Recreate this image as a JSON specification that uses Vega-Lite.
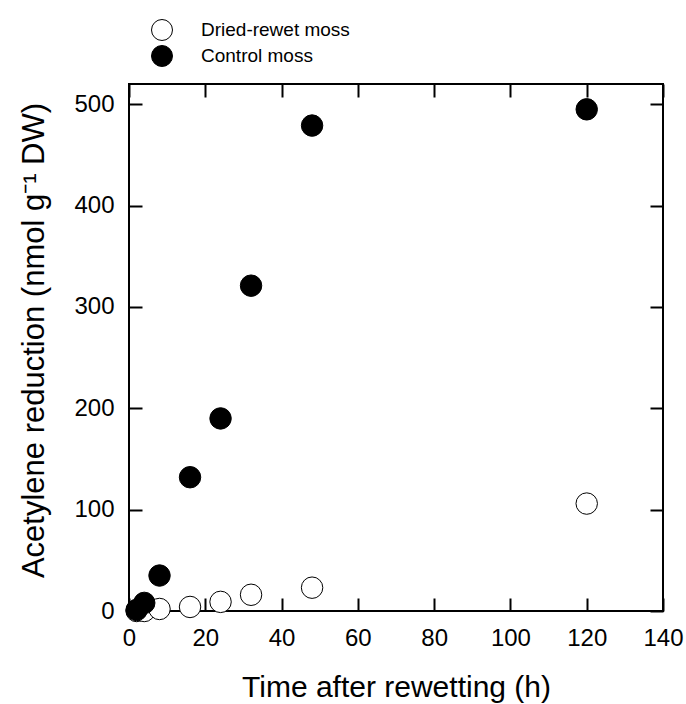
{
  "$schema": "https://vega.github.io/schema/vega-lite/v6.json",
  "autosize": {"type": "none"},
  "padding": {"left": 129, "top": 84, "right": 23, "bottom": 93},
  "width": 534,
  "height": 527,
  "background": "white",
  "config": {
    "view": {"stroke": "black", "strokeWidth": 2},
    "font": "Liberation Sans",
    "axis": {
      "grid": false,
      "domain": false,
      "tickColor": "black",
      "tickWidth": 2,
      "tickSize": -13,
      "labelFlush": false,
      "labelOverlap": false,
      "labelColor": "black",
      "titleColor": "black",
      "labelFont": "Liberation Sans",
      "titleFont": "Liberation Sans",
      "labelFontSize": 24,
      "titleFontSize": 30,
      "titleFontWeight": "normal"
    }
  },
  "data": {
    "values": [
      {"time": 2, "value": 0, "group": "Dried-rewet moss"},
      {"time": 4, "value": 0, "group": "Dried-rewet moss"},
      {"time": 8, "value": 2, "group": "Dried-rewet moss"},
      {"time": 16, "value": 4, "group": "Dried-rewet moss"},
      {"time": 24, "value": 9, "group": "Dried-rewet moss"},
      {"time": 32, "value": 16, "group": "Dried-rewet moss"},
      {"time": 48, "value": 23, "group": "Dried-rewet moss"},
      {"time": 120, "value": 106, "group": "Dried-rewet moss"},
      {"time": 2, "value": 1, "group": "Control moss"},
      {"time": 4, "value": 8, "group": "Control moss"},
      {"time": 8, "value": 35, "group": "Control moss"},
      {"time": 16, "value": 132, "group": "Control moss"},
      {"time": 24, "value": 190, "group": "Control moss"},
      {"time": 32, "value": 321, "group": "Control moss"},
      {"time": 48, "value": 479, "group": "Control moss"},
      {"time": 120, "value": 495, "group": "Control moss"}
    ]
  },
  "layer": [
    {
      "mark": {"type": "point", "filled": true, "size": 460, "stroke": "black", "strokeWidth": 1, "opacity": 1},
      "encoding": {
        "x": {
          "field": "time", "type": "quantitative",
          "scale": {"domain": [0, 140], "nice": false, "zero": false},
          "axis": {"orient": "bottom", "values": [0, 20, 40, 60, 80, 100, 120, 140], "labelPadding": 28, "title": "Time after rewetting (h)", "titlePadding": 22}
        },
        "y": {
          "field": "value", "type": "quantitative",
          "scale": {"domain": [0, 520], "nice": false, "zero": false},
          "axis": {"orient": "left", "values": [0, 100, 200, 300, 400, 500], "labelPadding": 28, "title": "Acetylene reduction (nmol g⁻¹ DW)", "titleFontSize": 31, "titlePadding": 23, "titleY": 256}
        },
        "fill": {
          "field": "group", "type": "nominal",
          "scale": {"domain": ["Dried-rewet moss", "Control moss"], "range": ["white", "black"]},
          "legend": {
            "title": null,
            "orient": "none",
            "legendX": 22,
            "legendY": -65,
            "padding": 0,
            "symbolType": "circle",
            "symbolSize": 440,
            "symbolStrokeColor": "black",
            "symbolStrokeWidth": 1,
            "labelFontSize": 19,
            "labelFont": "Liberation Sans",
            "labelColor": "black",
            "labelOffset": 28,
            "rowPadding": 0
          }
        }
      }
    },
    {
      "mark": {"type": "point", "size": 0, "opacity": 0},
      "encoding": {
        "x": {
          "field": "time", "type": "quantitative",
          "axis": {"orient": "top", "values": [0, 20, 40, 60, 80, 100, 120, 140], "labels": false, "title": null}
        },
        "y": {
          "field": "value", "type": "quantitative",
          "axis": {"orient": "right", "values": [0, 100, 200, 300, 400, 500], "labels": false, "title": null}
        }
      }
    }
  ],
  "resolve": {"axis": {"x": "independent", "y": "independent"}}
}
